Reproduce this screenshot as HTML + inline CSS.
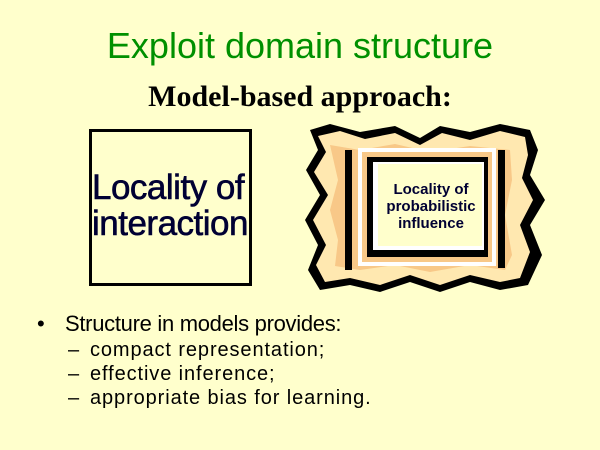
<!DOCTYPE html>
<html><head><meta charset="utf-8"><style>
html,body{margin:0;padding:0}
body{width:600px;height:450px;background:#FFFFCC;position:relative;overflow:hidden;font-family:"Liberation Sans",sans-serif}
.t{position:absolute;left:0;width:600px;text-align:center}
.abs{position:absolute;white-space:nowrap}
</style></head><body>
<div class="t" style="top:25px;font-size:36px;color:#009000">Exploit domain structure</div>
<div class="t" style="top:80px;font-family:'Liberation Serif',serif;font-weight:bold;font-size:30px;color:#000">Model-based approach:</div>
<div class="abs" style="left:89px;top:129px;width:157px;height:151px;border:3px solid #000"></div>
<div class="abs" style="left:92px;top:170px;font-size:35px;line-height:36px;color:#000033;letter-spacing:-0.5px;-webkit-text-stroke:0.6px #000033">Locality of<br>interaction</div>
<svg class="abs" style="left:0;top:0" width="600" height="450">
<path d="M310,130 L330,124 L360,132 L395,126 L420,138 L440,126 L470,132 L500,124 L530,130 L538,150 L530,175 L545,200 L530,225 L542,255 L528,285 L500,290 L470,282 L440,292 L410,282 L380,292 L350,285 L320,290 L308,270 L318,245 L305,220 L320,195 L306,170 L318,150 Z" fill="#000"/>
<path d="M318,136 L340,131 L365,139 L395,133 L420,145 L442,133 L470,140 L500,131 L525,137 L528,155 L522,178 L533,200 L520,225 L530,252 L520,278 L500,282 L470,275 L440,285 L410,275 L380,285 L350,278 L325,282 L316,265 L326,245 L313,220 L328,195 L314,172 L326,152 Z" fill="#FFE8B0"/>
<path d="M330,145 L360,150 L395,144 L430,152 L470,146 L510,150 L512,180 L505,215 L512,255 L505,270 L470,265 L430,272 L395,265 L360,270 L335,266 L338,240 L330,210 L338,180 Z" fill="#F8C888"/>
<path d="M345,150 L345,270 L352,270 L352,150 Z M498,150 L498,268 L505,268 L505,150 Z" fill="#000"/>
<rect x="358" y="148" width="138" height="118" fill="#fff"/>
<rect x="362" y="152" width="130" height="110" fill="#F8C888"/>
<rect x="367" y="157" width="121" height="100" fill="#000"/>
<rect x="373" y="162" width="111" height="88" fill="#fff"/>
<rect x="378" y="164" width="104" height="82" fill="#FFFFCC"/>
</svg>
<div class="abs" style="left:371px;top:181px;width:120px;text-align:center;font-size:15px;line-height:17px;font-weight:bold;color:#000033">Locality of<br>probabilistic<br>influence</div>
<div class="abs" style="left:37px;top:311px;font-size:22px;color:#000">•</div>
<div class="abs" style="left:65px;top:311px;font-size:22px;color:#000;letter-spacing:-0.3px">Structure in models provides:</div>
<div class="abs" style="left:68px;top:338px;font-size:20px;line-height:24px;color:#000">–<br>–<br>–</div>
<div class="abs" style="left:90px;top:338px;font-size:20px;line-height:24px;color:#000;letter-spacing:0.9px">compact representation;<br>effective inference;<br>appropriate bias for learning.</div>
</body></html>
